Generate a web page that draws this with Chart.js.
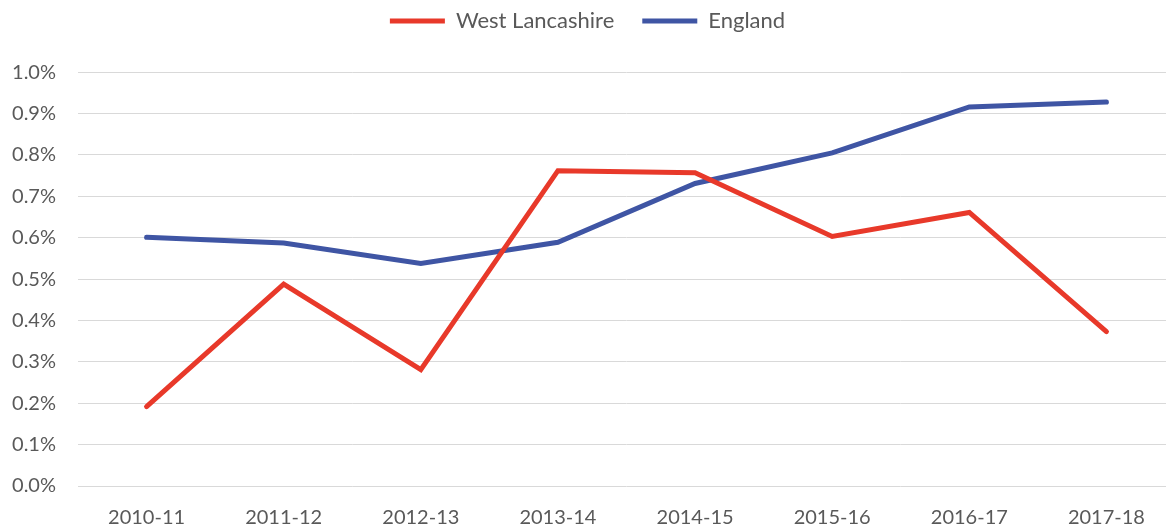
<!DOCTYPE html>
<html>
<head>
<meta charset="utf-8">
<script src="https://cdn.jsdelivr.net/npm/chart.js@4"></script>
<style>
  html, body { margin: 0; padding: 0; background: #fff; overflow: hidden; }
  #wrap { width: 1175px; height: 532px; }
</style>
</head>
<body>
<div id="wrap"><canvas id="chart"></canvas></div>
<script>
const years = ['2010-11', '2011-12', '2012-13', '2013-14', '2014-15', '2015-16', '2016-17', '2017-18'];
const westLancashire = [0.192, 0.488, 0.281, 0.762, 0.757, 0.603, 0.661, 0.373];
const england = [0.601, 0.587, 0.538, 0.589, 0.731, 0.805, 0.916, 0.928];

const textColor = '#595959';
const tickFont = { family: 'Lato', size: 20 };

new Chart('chart', {
  type: 'line',
  data: {
    labels: years,
    datasets: [
      {
        label: 'West Lancashire',
        data: westLancashire,
        borderColor: '#e8392a',
        backgroundColor: '#e8392a',
        borderWidth: 5,
        pointRadius: 0,
        pointStyle: 'line',
        borderCapStyle: 'round',
        tension: 0,
      },
      {
        label: 'England',
        data: england,
        borderColor: '#3f55a4',
        backgroundColor: '#3f55a4',
        borderWidth: 5,
        pointRadius: 0,
        pointStyle: 'line',
        borderCapStyle: 'round',
        tension: 0,
      },
    ],
  },
  options: {
    responsive: true,
    maintainAspectRatio: false,
    animation: false,
    layout: { padding: { top: -18, right: 0, left: 0, bottom: 0 } },
    plugins: {
      legend: {
        position: 'top',
        weight: 3000,
        labels: {
          color: textColor,
          font: { family: 'Lato', size: 22 },
          usePointStyle: true,
          pointStyleWidth: 55,
          padding: 28,
        },
      },
      // empty title used only as a spacer between legend and plot
      title: {
        display: true,
        text: ' ',
        font: { size: 1 },
        padding: { top: 0, bottom: 29 },
      },
      tooltip: { enabled: false },
    },
    scales: {
      x: {
        offset: true,
        grid: { display: false },
        border: { display: false },
        ticks: { color: textColor, font: tickFont, maxRotation: 0, padding: 12 },
        afterFit: (scale) => { scale.height = 46; },
      },
      y: {
        min: 0,
        max: 1.0,
        ticks: {
          stepSize: 0.1,
          color: textColor,
          font: tickFont,
          padding: 22,
          callback: (v) => v.toFixed(1) + '%',
        },
        grid: { color: '#d9d9d9', lineWidth: 1, drawTicks: false },
        border: { display: false },
        afterFit: (scale) => { scale.width = 78; },
      },
    },
  },
});
</script>
</body>
</html>
